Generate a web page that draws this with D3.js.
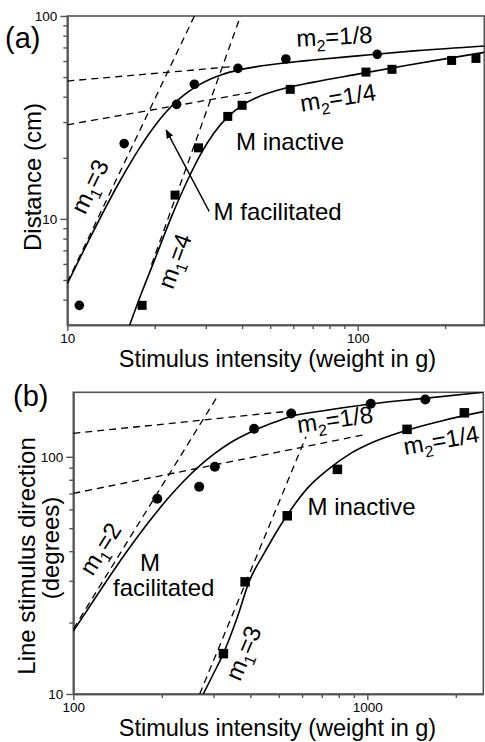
<!DOCTYPE html>
<html><head><meta charset="utf-8">
<script src="https://cdn.jsdelivr.net/npm/d3@7"></script>
<style>
html,body{margin:0;padding:0;background:#fff;}
svg text{font-family:"Liberation Sans",Arial,sans-serif;fill:#000;}
</style></head>
<body><svg id="c" width="485" height="742"></svg>
<script>
// ---------- Panel (a) data ----------
const aFacX = [11.0, 15.7, 23.8, 27.4, 38.7, 56.6, 116.8];
const aFacY = [3.75, 23.5, 36.7, 46.1, 55.2, 61.4, 64.7];
const aInaX = [18.1, 23.5, 28.3, 35.7, 40.0, 58.6, 106.8, 131.3, 210.7, 255.5];
const aInaY = [3.75, 13.1, 22.4, 32.0, 36.3, 43.5, 52.9, 54.6, 60.4, 61.8];
const aFacFitX = [10, 12, 15, 18, 20, 22, 25, 27.5, 31, 34, 38.7, 45, 56.6, 70, 100, 160, 273];
const aFacFitY = [4.79, 8.11, 14.9, 23.1, 28.7, 33.9, 40.4, 44.5, 48.8, 51.4, 54.1, 56.3, 58.8, 60.7, 63.6, 67.5, 71.2];
const aInaFitX = [16.4, 18, 20, 23, 26, 29, 32, 36, 40, 45, 55, 70, 100, 150, 200, 273];
const aInaFitY = [3.0, 4.3, 6.3, 10.5, 15.6, 21.2, 26.5, 32.2, 36.3, 39.7, 43.7, 47.1, 51.7, 57.3, 61.5, 66.2];
const aDashM1FacX = [10, 27.4],  aDashM1FacY = [4.87, 100];
const aDashM1InaX = [19.5, 39.5], aDashM1InaY = [5.94, 100];
const aDashM2FacX = [10, 36.5],  aDashM2FacY = [47.8, 56.2];
const aDashM2InaX = [10, 43],    aDashM2InaY = [29.1, 42.0];
const aXDomain = [10, 273], aYDomain = [3, 100];
const aXMajor = [10, 100], aXMinor = [20,30,40,50,60,70,80,90,200];
const aYMajor = [10, 100], aYMinor = [4,5,6,7,8,9,20,30,40,50,60,70,80,90];

// ---------- Panel (b) data ----------
const bFacX = [193, 268, 303, 412, 551, 1027, 1575];
const bFacY = [66.5, 74.8, 90.8, 131.2, 152.3, 167.2, 174.5];
const bInaX = [324, 384, 534, 791, 1365, 2138];
const bInaY = [14.8, 29.7, 56.4, 88.5, 130.5, 153.2];
const bFacFitX = [100, 120, 150, 180, 210, 240, 270, 303, 340, 412, 470, 551, 700, 1027, 1500, 2480];
const bFacFitY = [18.4, 25.9, 38.9, 52.8, 66.8, 80, 92, 103.3, 114, 129, 138, 148, 156, 167, 175.5, 187];
const bInaFitX = [276.8, 300, 323.7, 360, 396, 450, 534, 625, 731, 878, 1054, 1368, 1800, 2480];
const bInaFitY = [10, 12.2, 14.8, 20.8, 29.7, 40, 56.8, 73.6, 87.9, 103.4, 115.7, 129.6, 142, 155];
const bDashM1FacX = [100, 311],   bDashM1FacY = [18.8, 182];
const bDashM1InaX = [269.1, 618.6], bDashM1InaY = [10, 121.4];
const bDashM2FacX = [100, 520],   bDashM2FacY = [125.5, 154.9];
const bDashM2InaX = [100, 1000],  bDashM2InaY = [70.1, 124.7];
const bXDomain = [100, 2480], bYDomain = [10, 187];
const bXMajor = [100, 1000], bXMinor = [200,300,400,500,600,700,800,900,2000];
const bYMajor = [10, 100], bYMinor = [20,30,40,50,60,70,80,90];

const svg = d3.select("#c");
const AX = "#555";

function zip(xs, ys){ return xs.map((x,i)=>[x, ys[i]]); }

function panel(cfg){
  const x = d3.scaleLog().domain(cfg.xd).range(cfg.xr);
  const y = d3.scaleLog().domain(cfg.yd).range(cfg.yr);
  const g = svg.append("g");
  g.append("rect").attr("x", cfg.xr[0]).attr("y", cfg.yr[1])
    .attr("width", cfg.xr[1]-cfg.xr[0]).attr("height", cfg.yr[0]-cfg.yr[1])
    .attr("fill","none").attr("stroke",AX).attr("stroke-width",1.6);
  const fmt = d => String(d);
  const xa = g.append("g").attr("transform",`translate(0,${cfg.yr[0]})`)
    .call(d3.axisBottom(x).tickValues(cfg.xMaj).tickFormat(fmt).tickSize(6).tickSizeOuter(0).tickPadding(2));
  const xm = g.append("g").attr("transform",`translate(0,${cfg.yr[0]})`)
    .call(d3.axisBottom(x).tickValues(cfg.xMin).tickFormat("").tickSize(4).tickSizeOuter(0));
  const ya = g.append("g").attr("transform",`translate(${cfg.xr[0]},0)`)
    .call(d3.axisLeft(y).tickValues(cfg.yMaj).tickFormat(fmt).tickSize(7).tickSizeOuter(0).tickPadding(3));
  const ym = g.append("g").attr("transform",`translate(${cfg.xr[0]},0)`)
    .call(d3.axisLeft(y).tickValues(cfg.yMin).tickFormat("").tickSize(4).tickSizeOuter(0));
  [xa,xm,ya,ym].forEach(a=>{
    a.select(".domain").attr("stroke",AX).attr("stroke-width",1.6);
    a.selectAll(".tick line").attr("stroke",AX).attr("stroke-width",1.4);
    a.selectAll(".tick text").attr("font-size",13.5).attr("font-family","Liberation Sans, Arial, sans-serif").attr("fill","#000");
  });
  const line = d3.line().x(d=>x(d[0])).y(d=>y(d[1]));
  const curve = d3.line().x(d=>x(d[0])).y(d=>y(d[1])).curve(d3.curveMonotoneX);
  const clipId = "clip"+cfg.id;
  svg.append("clipPath").attr("id",clipId).append("rect")
    .attr("x",cfg.xr[0]).attr("y",cfg.yr[1]).attr("width",cfg.xr[1]-cfg.xr[0]).attr("height",cfg.yr[0]-cfg.yr[1]);
  const pg = g.append("g").attr("clip-path",`url(#${clipId})`);
  cfg.dashes.forEach(d=>{
    pg.append("path").attr("d", line(d)).attr("fill","none").attr("stroke","#000")
      .attr("stroke-width",1.3).attr("stroke-dasharray","7,5");
  });
  cfg.fits.forEach(d=>{
    pg.append("path").attr("d", curve(d)).attr("fill","none").attr("stroke","#000").attr("stroke-width",1.6);
  });
  g.selectAll(null).data(cfg.circ).join("circle")
    .attr("cx",d=>x(d[0])).attr("cy",d=>y(d[1])).attr("r",cfg.r).attr("fill","#000");
  g.selectAll(null).data(cfg.sq).join("rect")
    .attr("x",d=>x(d[0])-cfg.s/2).attr("y",d=>y(d[1])-cfg.s/2).attr("width",cfg.s).attr("height",cfg.s).attr("fill","#000");
  return {x,y,g};
}

const A = panel({id:"a", xd:aXDomain, yd:aYDomain, xr:[67.3,484.3], yr:[325,16],
  xMaj:aXMajor, xMin:aXMinor, yMaj:aYMajor, yMin:aYMinor,
  dashes:[zip(aDashM1FacX,aDashM1FacY), zip(aDashM1InaX,aDashM1InaY), zip(aDashM2FacX,aDashM2FacY), zip(aDashM2InaX,aDashM2InaY)],
  fits:[zip(aFacFitX,aFacFitY), zip(aInaFitX,aInaFitY)],
  circ:zip(aFacX,aFacY), sq:zip(aInaX,aInaY), r:4.8, s:9});

const B = panel({id:"b", xd:bXDomain, yd:bYDomain, xr:[73.3,483.3], yr:[694,392.3],
  xMaj:bXMajor, xMin:bXMinor, yMaj:bYMajor, yMin:bYMinor,
  dashes:[zip(bDashM1FacX,bDashM1FacY), zip(bDashM1InaX,bDashM1InaY), zip(bDashM2FacX,bDashM2FacY), zip(bDashM2InaX,bDashM2InaY)],
  fits:[zip(bFacFitX,bFacFitY), zip(bInaFitX,bInaFitY)],
  circ:zip(bFacX,bFacY), sq:zip(bInaX,bInaY), r:5, s:9.5});

// ---------- text ----------
const FS = 24;
function txt(x,y,s,opt={}){
  const t = svg.append("text").attr("x",x).attr("y",y).attr("font-size",opt.fs||FS).text(s);
  if(opt.anchor) t.attr("text-anchor",opt.anchor);
  if(opt.rot!==undefined) t.attr("transform",`rotate(${opt.rot},${x},${y})`);
  return t;
}
function mlabel(P, dx, dy, sub, rest, rot){
  const px = P.x(dx), py = P.y(dy);
  const t = svg.append("text").attr("x",px).attr("y",py).attr("font-size",FS)
    .attr("transform",`rotate(${rot},${px},${py})`);
  t.append("tspan").text("m");
  t.append("tspan").attr("font-size",16).attr("dy",6).text(sub);
  t.append("tspan").attr("dy",-6).text(rest);
}

txt(5,48,"(a)",{fs:29});
txt(13,406,"(b)",{fs:29});
txt(277.5,366.5,"Stimulus intensity (weight in g)",{anchor:"middle",fs:23.5});
txt(277.5,735.5,"Stimulus intensity (weight in g)",{anchor:"middle",fs:23.5});
txt(41,177,"Distance (cm)",{anchor:"middle",rot:-90});
txt(35,556,"Line stimulus direction",{anchor:"middle",rot:-90});
txt(59,548,"(degrees)",{anchor:"middle",rot:-90});

mlabel(A, 61.7, 70.6, "2", "=1/8", -3);
mlabel(A, 64.1, 33.7, "2", "=1/4", -9);
mlabel(A, 11.5, 10.4, "1", "=3", -64);
mlabel(A, 23.1, 4.45, "1", "=4", -70);
txt(A.x(38.1), A.y(21.9), "M inactive");
txt(A.x(31.9), A.y(9.91), "M facilitated");
svg.append("defs").append("marker").attr("id","ah").attr("viewBox","0 0 10 10")
  .attr("refX",9).attr("refY",5).attr("markerWidth",9).attr("markerHeight",9).attr("orient","auto")
  .attr("markerUnits","userSpaceOnUse")
  .append("path").attr("d","M0,1 L10,5 L0,9 Z").attr("fill","#000");
svg.append("line").attr("x1",A.x(30.8)).attr("y1",A.y(10.9)).attr("x2",A.x(21.9)).attr("y2",A.y(27.4))
  .attr("stroke","#000").attr("stroke-width",1.4).attr("marker-end","url(#ah)");

mlabel(B, 582.6, 125.9, "2", "=1/8", -8);
mlabel(B, 1343, 101.7, "2", "=1/4", -10);
mlabel(B, 116.3, 31.1, "1", "=2", -58);
mlabel(B, 369, 11.2, "1", "=3", -67);
txt(B.x(626), B.y(56.8), "M inactive");
txt(B.x(168.6), B.y(33.0), "M");
txt(B.x(136.5), B.y(25.8), "facilitated");
</script></body></html>
